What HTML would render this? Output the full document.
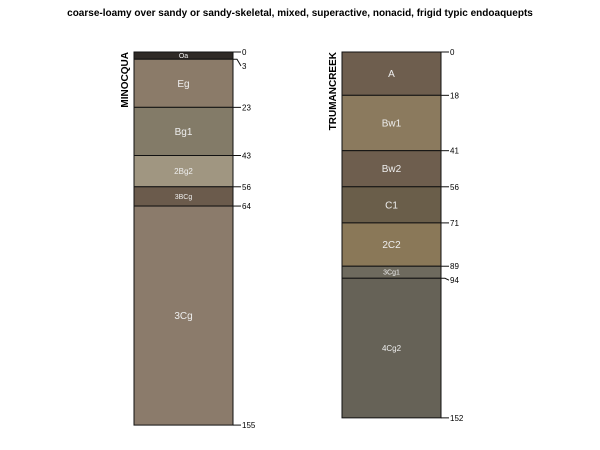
<!DOCTYPE html>
<html><head><meta charset="utf-8"><style>
html,body{margin:0;padding:0;background:#fff}
svg{display:block;font-family:"Liberation Sans",sans-serif}
</style></head><body>
<svg id="c" width="600" height="450">
<text x="300" y="16" text-anchor="middle" font-size="10" font-weight="bold">coarse-loamy over sandy or sandy-skeletal, mixed, superactive, nonacid, frigid typic endoaquepts</text>
</svg>
<script>
const minNames=["Oa","Eg","Bg1","2Bg2","3BCg","3Cg"];
const minDepths=[0,3,23,43,56,64,155];
const minColors=["#2f2a26","#8b7b69","#837b68","#a09681","#6b5b4c","#8b7b6b"];
const truNames=["A","Bw1","Bw2","C1","2C2","3Cg1","4Cg2"];
const truDepths=[0,18,41,56,71,89,94,152];
const truColors=["#6e5e4e","#8b7a5e","#6e5e4e","#6a5e4a","#8a7858","#6e6a5e","#666257"];
const NS="http://www.w3.org/2000/svg";
const svg=document.getElementById('c');
const top0=52, scale=2.407;
function y(d){return top0+d*scale;}
function el(t,a,txt){const e=document.createElementNS(NS,t);for(const k in a)e.setAttribute(k,a[k]);if(txt!==undefined)e.textContent=txt;svg.appendChild(e);return e;}
function profile(name,names,depths,colors,x0,w,nameX){
  const g=el('g',{});
  
  
  for(let i=0;i<names.length;i++){
    const y1=y(depths[i]),y2=y(depths[i+1]);
    const r=el('rect',{x:x0,y:y1,width:w,height:y2-y1,fill:colors[i],stroke:'#111','stroke-width':1});
    
    
    const h=y2-y1;
    const fs=h<20?7:(names[i].length>3?8:10);
    const t=el('text',{x:x0+w/2,y:(y1+y2)/2+fs*0.35,'text-anchor':'middle','font-size':fs,fill:'#eee'},names[i]);
    
    
  }
  // depth ticks
  let lastY=-100;
  for(let i=0;i<depths.length;i++){
    const yy=y(depths[i]);
    let ly=yy+3; if(ly<lastY+14) ly=lastY+14; lastY=ly;
    const l=el('polyline',{points:`${x0+w},${yy} ${x0+w+4},${yy} ${x0+w+8},${ly-3}`,fill:'none',stroke:'#111','stroke-width':1});
    
    
    const t=el('text',{x:x0+w+9,y:ly,'font-size':8},depths[i]);
    
    
  }
  const t=el('text',{x:nameX,y:top0,'font-size':10,'font-weight':'bold','text-anchor':'end',transform:`rotate(-90 ${nameX} ${top0})`},name);
  
  
}
profile("MINOCQUA",minNames,minDepths,minColors,134,99,128);
profile("TRUMANCREEK",truNames,truDepths,truColors,342,99,336);
</script>
</body></html>
